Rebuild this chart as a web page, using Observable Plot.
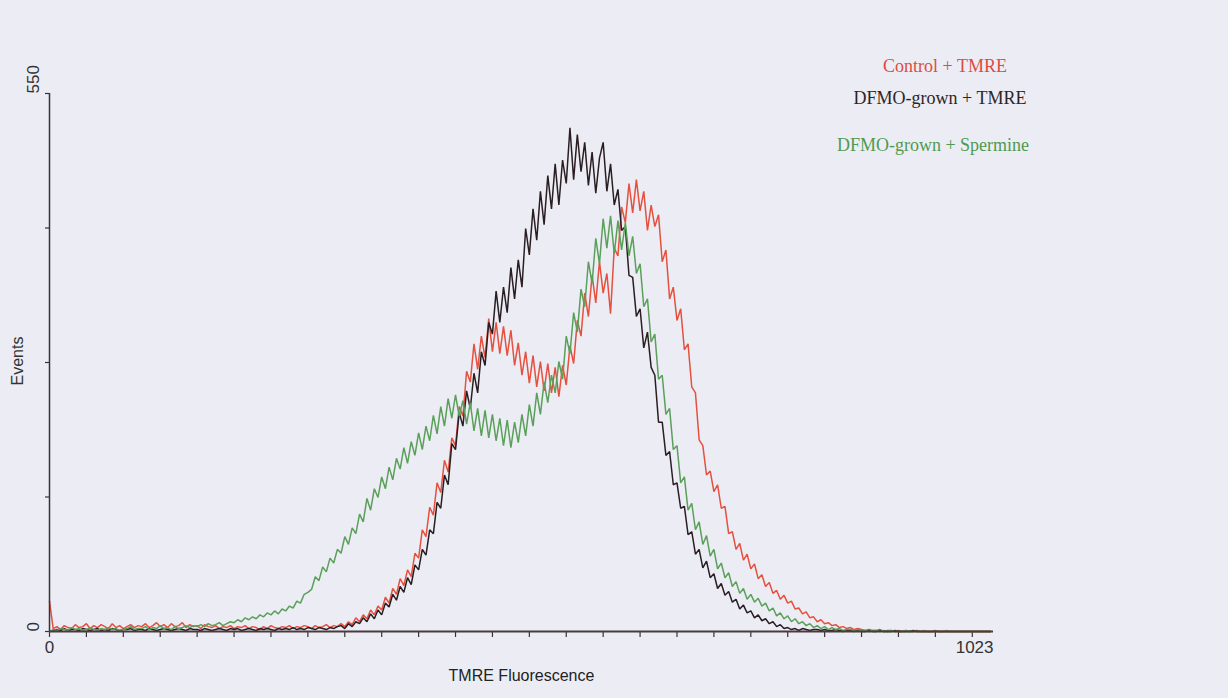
<!DOCTYPE html>
<html><head><meta charset="utf-8">
<script src="https://cdn.jsdelivr.net/npm/d3@7"></script>
<script src="https://cdn.jsdelivr.net/npm/@observablehq/plot@0.6"></script>
<style>
html,body{margin:0;padding:0;background:#ecedf4;}
#wrap{position:relative;width:1228px;height:698px;overflow:hidden;}
.leg{position:absolute;font-family:"Liberation Serif","Times New Roman",serif;font-size:18px;white-space:nowrap;transform:translateX(-50%);line-height:1;}
</style></head><body><div id="wrap"></div>
<script>
// Series names and colours (legend order)
const seriesNames = ["Control + TMRE", "DFMO-grown + TMRE", "DFMO-grown + Spermine"];
const seriesColors = ["#e5503f", "#2a1e22", "#5aa05a"];
const legendColors = ["#df4b3e", "#2e2426", "#4f9a50"];
// Histogram: one value every 4 channels, channels 0..1020
const binWidth = 4;
const control = [
31,3,5,2,6,4,3,7,4,5,8,3,6,4,7,5,3,8,4,6,3,5,7,4,6,
5,8,4,6,9,5,7,4,8,5,6,9,4,7,5,6,3,7,5,4,6,3,5,4,6,
3,5,4,6,3,5,4,2,5,3,6,4,3,5,4,6,3,5,4,6,5,3,6,4,5,7,4,6,5,
8,5,
10,7,14,10,17,13,22,17,26,22,
35,29,44,38,54,47,63,56,80,75,
104,97,127,119,152,142,175,163,198,190,
230,220,266,255,294,268,302,280,320,286,
316,284,312,282,308,272,295,262,286,254,
282,250,276,246,274,244,270,240,272,252,
292,274,318,302,346,322,364,336,378,346,
366,325,392,384,434,418,458,428,462,430,
450,410,436,414,426,378,390,340,352,318,
330,288,294,250,244,196,190,160,164,143,
150,126,128,100,102,84,90,73,79,64,
69,54,58,46,50,39,42,33,37,29,
31,23,24,18,20,14,15,10,12,8,
9,6,7,4,5,3,4,2,3,2,
1,2,1,1,2,0,1,1,0,1,
0,1,0,0,1,0,0,0,0,1,0,0,0,0,0,0,0,0,0,0,0,0,0,0,0
];
const dfmo = [
0,1,2,1,3,1,2,2,1,3,2,1,2,3,1,2,1,3,2,1,2,2,3,1,2,
2,1,3,2,1,2,3,2,1,2,3,2,1,3,2,2,1,3,2,1,2,3,2,1,3,
2,3,1,2,3,2,1,3,2,3,2,1,3,2,3,2,4,2,3,2,4,3,2,4,3,2,4,3,5,
6,3,
8,5,10,8,14,10,18,13,22,17,
29,25,38,32,46,40,55,48,68,63,
84,78,104,100,132,126,160,150,192,186,
224,210,246,228,264,244,286,272,316,304,
348,316,352,326,372,340,380,352,412,385,
432,400,450,416,466,432,478,436,482,458,
515,462,508,470,500,456,490,448,484,500,
450,478,436,452,410,414,364,362,322,330,
290,306,270,262,214,214,180,184,150,152,
126,128,99,102,79,84,65,72,55,59,
44,49,37,41,30,33,23,27,19,21,
14,17,11,13,8,10,5,7,3,4,
2,3,1,3,2,1,2,2,1,2,1,1,2,1,0,1,1,0,1,0,
0,1,0,0,1,0,0,0,1,0,0,0,0,1,0,0,0,0,0,0,0,0,0,0,0,0,0,0,0,0,0,0,0,0,0
];
const spermine = [
0,2,1,3,2,1,4,2,3,1,2,4,2,1,3,2,4,2,3,1,2,3,5,2,3,
3,5,2,4,3,6,3,4,2,5,3,4,6,
4,6,5,7,5,8,6,7,9,6,8,10,
9,12,10,14,12,15,13,17,15,19,17,
21,18,23,21,26,24,31,29,38,40,
43,56,52,66,61,75,70,84,80,97,
89,106,100,120,112,136,124,146,137,158,
146,168,155,177,166,188,172,194,180,203,
186,210,195,221,202,230,210,238,218,242,
220,236,212,234,205,228,200,226,198,222,
195,218,190,216,188,214,193,222,200,232,
210,244,222,255,234,262,244,276,258,302,
284,326,306,350,332,378,356,402,376,422,
392,425,386,420,390,418,384,404,366,376,
332,340,296,304,258,262,222,228,186,190,
152,158,124,131,104,112,89,98,77,84,
64,70,55,60,46,51,39,44,33,38,
30,34,26,29,21,24,16,19,13,16,
10,13,8,10,6,8,4,6,3,5,
2,4,2,3,1,2,2,1,2,1,
1,0,1,1,0,1,0,1,0,0,
0,1,0,0,0,0,1,0,0,0,0,0,1,0,0,0,0,0,0,0,0,0,0,0,0
];
// Axis ticks and labels
const xTicks = d3.range(0, 1001, 40);
const yTicks = [0, 137.5, 275, 412.5, 550];
const xTickStart = [{v: 0, t: "0"}];
const xTickEnd = [{v: 1023, t: "1023"}];
const yTickLabels = [{v: 0, t: "0"}, {v: 550, t: "550"}];
const xTitle = "TMRE Fluorescence";
const yTitle = "Events";

const rows = [];
[control, dfmo, spermine].forEach((arr, s) =>
  arr.forEach((v, i) => rows.push({series: seriesNames[s], ch: i * binWidth, v})));

const axisColor = "#3a3336";
const sans = "'Liberation Sans', Arial, sans-serif";

const chart = Plot.plot({
  width: 1228, height: 698,
  marginLeft: 49, marginRight: 235, marginTop: 93, marginBottom: 67,
  x: {domain: [0, 1023], axis: null},
  y: {domain: [0, 550], axis: null},
  color: {domain: seriesNames, range: seriesColors},
  style: {background: "#ecedf4", fontFamily: sans, overflow: "visible"},
  marks: [
    Plot.axisX({ticks: xTicks, tickSize: 6, tickFormat: () => "", label: null, stroke: axisColor, strokeWidth: 1.2}),
    Plot.axisY({ticks: yTicks, tickSize: 4, tickFormat: () => "", label: null, stroke: axisColor, strokeWidth: 1.2}),
    Plot.line(rows, {x: "ch", y: "v", z: "series", stroke: "series", strokeWidth: 1.5, strokeLinejoin: "miter"}),
    Plot.ruleX([0], {stroke: axisColor, strokeWidth: 1.5}),
    Plot.ruleY([0], {stroke: "#4a3a3a", strokeWidth: 2.2}),
    Plot.text(xTickStart, {x: "v", text: "t", frameAnchor: "bottom", dy: 21, textAnchor: "middle", fontSize: 17, fill: "#333"}),
    Plot.text(xTickEnd, {x: "v", text: "t", frameAnchor: "bottom", dy: 21, textAnchor: "end", fontSize: 17, fill: "#333"}),
    Plot.text(yTickLabels, {y: "v", text: "t", frameAnchor: "left", dx: -16, rotate: -90, fontSize: 17, fill: "#333"}),
    Plot.text([xTitle], {frameAnchor: "bottom", dy: 49, fontSize: 16, fill: "#222"}),
    Plot.text([yTitle], {frameAnchor: "left", dx: -32, dy: 23, rotate: -90, fontSize: 16, fill: "#333", letterSpacing: "1px"})
  ]
});
const wrap = document.getElementById("wrap");
wrap.appendChild(chart);
// Legend (HTML overlay)
const legendPos = [{x: 945, y: 57}, {x: 940, y: 89}, {x: 933, y: 136}];
seriesNames.forEach((n, i) => {
  const d = document.createElement("div");
  d.className = "leg";
  d.textContent = n;
  d.style.left = legendPos[i].x + "px";
  d.style.top = legendPos[i].y + "px";
  d.style.color = legendColors[i];
  wrap.appendChild(d);
});
</script></body></html>
